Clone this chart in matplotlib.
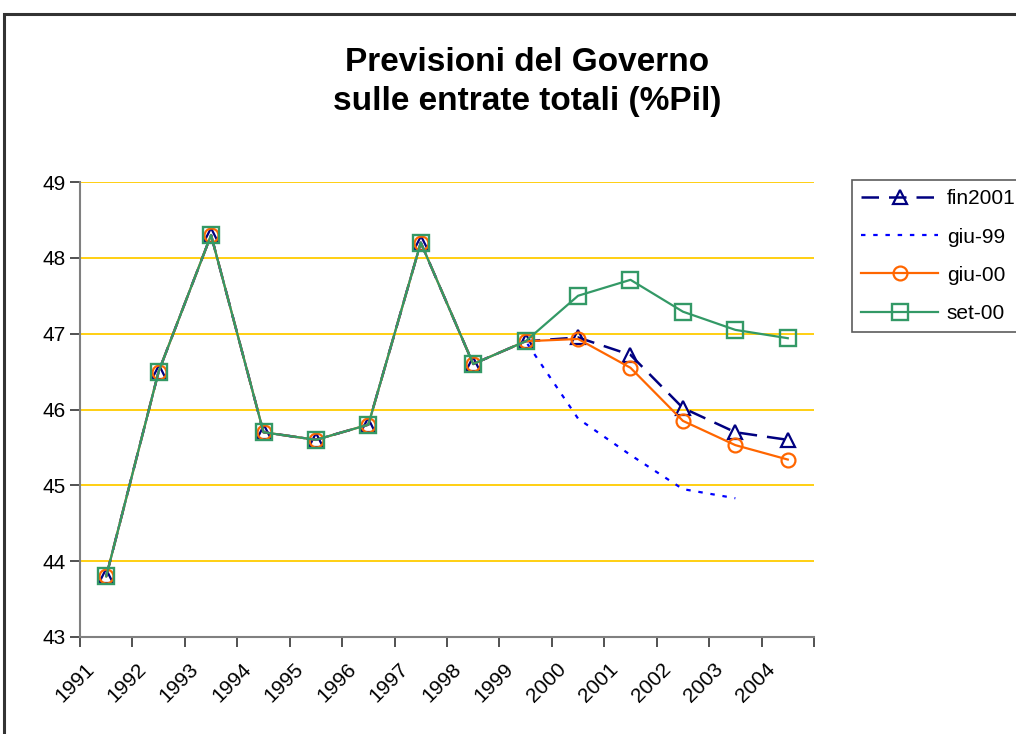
import numpy as np
import matplotlib
matplotlib.use("Agg")
import matplotlib.pyplot as plt
from matplotlib.patches import Rectangle
from matplotlib.transforms import ScaledTranslation

plt.rcParams["font.family"] = ["Liberation Sans", "DejaVu Sans"]

years = ["1991", "1992", "1993", "1994", "1995", "1996", "1997",
         "1998", "1999", "2000", "2001", "2002", "2003", "2004"]
storico = [43.8, 46.5, 48.3, 45.7, 45.6, 45.8, 48.2, 46.6, 46.9]  # common part
fin2001 = storico + [46.95, 46.72, 46.02, 45.70, 45.60]
giu99 = storico + [45.88, 45.40, 44.95, 44.83, np.nan]
giu00 = storico + [46.93, 46.55, 45.85, 45.53, 45.34]
set00 = storico + [47.50, 47.71, 47.29, 47.05, 46.94]
yticks = [43, 44, 45, 46, 47, 48, 49]

fig = plt.figure(figsize=(10.16, 7.34), dpi=100)
ax = fig.add_axes([80 / 1016, 1 - 637 / 734, 734 / 1016, 455 / 734])

# outer chart frame (cut off at right and bottom like the screenshot)
fig.patches.append(Rectangle((4 / 1016, -0.05), 1.2, 1 - 14 / 734 + 0.05,
                             transform=fig.transFigure, fill=False,
                             edgecolor="#333333", linewidth=2.2))

x = np.arange(len(years))
ax.plot(x, fin2001, color="#000080", linestyle=(0, (7, 4)), linewidth=1.8, marker="^",
        markersize=10, markerfacecolor="none", markeredgewidth=1.6, label="fin2001", zorder=2)
ax.plot(x, giu99, color="#0000FF", linestyle=(0, (2, 3.5)), linewidth=1.6, label="giu-99", zorder=3)
ax.plot(x, giu00, color="#FF6600", linewidth=1.6, marker="o", markersize=10,
        markerfacecolor="none", markeredgewidth=1.6, label="giu-00", zorder=4)
ax.plot(x, set00, color="#339966", linewidth=1.6, marker="s", markersize=11,
        markerfacecolor="none", markeredgewidth=1.7, label="set-00", zorder=5)

ax.set_xlim(-0.5, len(years) - 0.5)
ax.set_ylim(43, 49)
ax.set_yticks(yticks)
ax.set_yticklabels([str(v) for v in yticks], fontsize=15)
for v in yticks[1:]:
    ax.axhline(v, color="#FFCC00", linewidth=1.3, zorder=0)

ax.set_xticks(np.arange(len(years) + 1) - 0.5)
ax.set_xticklabels([])
ax.set_xticks(x, minor=True)
ax.set_xticklabels(years, minor=True, rotation=45, ha="right", rotation_mode="anchor", fontsize=15)
ax.tick_params(axis="x", which="minor", length=0, pad=16)
ax.tick_params(axis="both", which="major", length=7, width=1.2, color="#333333", direction="out")
for lab in ax.get_xticklabels(minor=True):
    lab.set_transform(lab.get_transform() + ScaledTranslation(-0.22, 0, fig.dpi_scale_trans))

for s in ["top", "right"]:
    ax.spines[s].set_visible(False)
for s in ["left", "bottom"]:
    ax.spines[s].set_color("#808080")
    ax.spines[s].set_linewidth(1.5)

fig.text(527 / 1016, 1 - 82 / 734, "Previsioni del Governo\nsulle entrate totali (%Pil)",
         ha="center", va="center", fontsize=24, fontweight="bold", linespacing=1.3)

handles, labels = ax.get_legend_handles_labels()
leg = fig.legend(handles, labels,
                 loc="upper left", bbox_to_anchor=(852 / 1016, 1 - 180 / 734),
                 borderaxespad=0, fontsize=15, frameon=True, fancybox=False,
                 edgecolor="#333333", handlelength=3.7, labelspacing=0.92,
                 borderpad=0.45, handletextpad=0.4)
leg.get_frame().set_linewidth(1.2)

fig.savefig("out.png", dpi=100)
